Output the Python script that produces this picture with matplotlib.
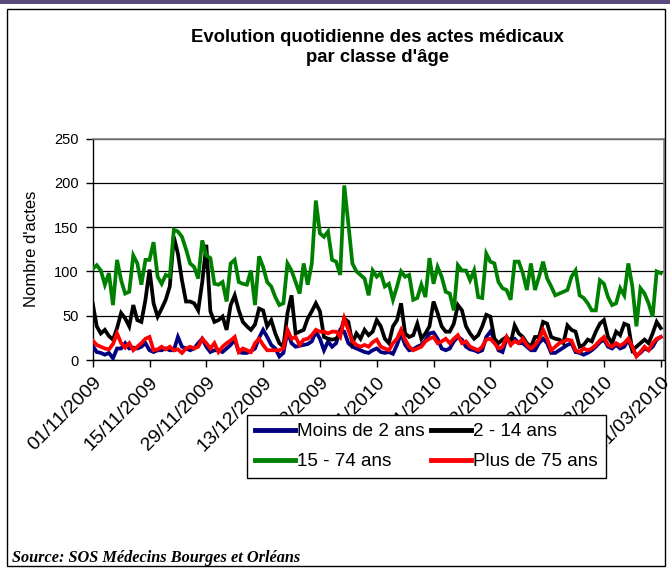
import numpy as np
import matplotlib
matplotlib.use("Agg")
import matplotlib.pyplot as plt
from matplotlib.patches import Rectangle
from matplotlib.lines import Line2D

# ---- data (daily values, 01/11/2009 -> 21/03/2010) ----
moins_2 = [16, 9, 8, 6, 8, 2, 13, 13, 19, 13, 14, 13, 15, 19, 11, 9, 11, 11, 13, 11, 11, 26, 15, 13,
           11, 13, 19, 24, 15, 9, 11, 11, 9, 13, 17, 23, 9, 8, 8, 10, 13, 25, 34, 26, 17, 13, 4, 8,
           32, 19, 15, 16, 17, 18, 21, 32, 24, 11, 21, 15, 19, 34, 32, 19, 15, 13, 11, 9, 8, 11, 13,
           9, 8, 9, 7, 17, 30, 17, 11, 12, 15, 17, 22, 30, 31, 24, 13, 11, 13, 21, 26, 23, 15, 12, 11,
           9, 11, 26, 32, 24, 11, 9, 24, 23, 24, 19, 19, 15, 11, 11, 19, 24, 19, 8, 8, 11, 14, 17, 19,
           9, 8, 6, 8, 11, 15, 20, 23, 15, 13, 17, 13, 15, 23, 11, 5, 8, 13, 11, 15, 23, 26]
ans_2_14 = [64, 38, 30, 34, 27, 23, 36, 53, 47, 38, 62, 45, 43, 68, 102, 64, 49, 58, 68, 83, 139, 120, 90, 66,
            66, 64, 56, 88, 130, 55, 43, 45, 49, 34, 62, 73, 56, 43, 38, 34, 40, 58, 56, 38, 45, 30, 19, 15,
            53, 73, 30, 32, 34, 47, 55, 64, 55, 26, 24, 23, 24, 30, 47, 43, 19, 30, 24, 34, 28, 32, 45,
            38, 24, 19, 38, 45, 64, 30, 26, 28, 41, 24, 30, 38, 66, 53, 38, 32, 32, 41, 62, 56, 38, 30, 24,
            28, 38, 51, 49, 24, 19, 23, 26, 19, 39, 30, 26, 19, 15, 26, 26, 43, 41, 26, 24, 23, 19, 39, 34,
            32, 15, 17, 23, 21, 32, 41, 45, 26, 19, 32, 28, 41, 39, 11, 15, 19, 23, 19, 30, 43, 36]
ans_15_74 = [103, 107, 101, 85, 98, 62, 113, 90, 75, 77, 118, 109, 85, 113, 113, 133, 94, 86, 96, 94, 147, 145, 139, 125,
             109, 105, 92, 135, 118, 115, 86, 85, 88, 66, 109, 113, 88, 86, 85, 101, 62, 117, 105, 88, 83, 71, 62, 64,
             109, 101, 88, 75, 109, 85, 109, 180, 143, 139, 145, 113, 111, 96, 197, 154, 109, 100, 96, 92, 73, 101, 94,
             98, 83, 86, 68, 83, 100, 94, 96, 68, 70, 85, 71, 115, 86, 105, 94, 77, 75, 56, 107, 101, 101, 90, 101,
             71, 70, 120, 111, 109, 88, 81, 79, 68, 111, 111, 98, 79, 109, 79, 94, 111, 92, 83, 73, 75, 77, 79, 94,
             101, 73, 70, 64, 56, 56, 90, 86, 71, 62, 64, 81, 73, 109, 83, 38, 81, 75, 64, 49, 100, 98]
plus_75 = [22, 17, 15, 13, 12, 18, 30, 19, 14, 19, 11, 15, 19, 24, 26, 11, 12, 15, 12, 15, 11, 12, 8, 13,
           15, 13, 15, 24, 19, 13, 19, 9, 15, 19, 22, 26, 9, 13, 11, 9, 19, 24, 17, 11, 11, 11, 11, 13,
           34, 24, 26, 17, 23, 24, 28, 34, 32, 32, 30, 32, 32, 26, 47, 34, 21, 17, 15, 17, 15, 20, 23,
           15, 13, 11, 19, 24, 34, 23, 15, 11, 13, 15, 21, 24, 26, 19, 21, 24, 19, 24, 28, 19, 21, 15, 13,
           11, 15, 23, 24, 19, 13, 15, 26, 17, 21, 19, 24, 17, 13, 17, 23, 34, 24, 11, 15, 19, 21, 23, 22,
           11, 9, 13, 11, 13, 17, 22, 26, 17, 15, 19, 16, 19, 24, 15, 4, 9, 15, 11, 19, 24, 26]

series_labels = ["Moins de 2 ans", "2 - 14 ans", "15 - 74 ans", "Plus de 75 ans"]
series_colors = ["#000080", "#000000", "#008000", "#FF0000"]
tick_labels = ["01/11/2009", "15/11/2009", "29/11/2009", "13/12/2009", "27/12/2009", "10/01/2010",
               "24/01/2010", "07/02/2010", "21/02/2010", "07/03/2010", "21/03/2010"]
y_ticks = [0, 50, 100, 150, 200, 250]

W, H = 670, 570
fig = plt.figure(figsize=(W / 100, H / 100), dpi=100)
fig.patch.set_facecolor("white")

# outer decorations
fig.patches.append(Rectangle((0, 1 - 4 / H), 1, 4 / H, transform=fig.transFigure,
                             facecolor="#5b4a7b", edgecolor="none", zorder=0))
fig.patches.append(Rectangle((7 / W, 1 - 566 / H), (665 - 7) / W, (566 - 9) / H, transform=fig.transFigure,
                             facecolor="none", edgecolor="black", lw=1.0, zorder=0))

ax = fig.add_axes([92.7 / W, 1 - 360 / H, (664 - 92.7) / W, (360 - 138.5) / H])

x = np.arange(len(moins_2))
data = [moins_2, ans_2_14, ans_15_74, plus_75]
for vals, lab, col in zip(data, series_labels, series_colors):
    ax.plot(x, vals, color=col, lw=2.7, label=lab, solid_joinstyle="miter", zorder=3)

ax.set_xlim(0, 140.8)
ax.set_ylim(0, 250)
ax.set_yticks(y_ticks)
ax.set_xticks(np.arange(0, 14 * len(tick_labels), 14))
ax.set_xticklabels(tick_labels, rotation=45, ha="right", rotation_mode="anchor",
                   fontsize=14, family="Liberation Sans")
for t in ax.get_yticklabels():
    t.set_fontsize(10.5)
    t.set_family("Liberation Sans")
ax.tick_params(axis="both", direction="out", length=5, width=1, color="black")
ax.tick_params(axis="y", pad=5)
ax.tick_params(axis="x", pad=5)

ax.grid(axis="y", color="black", lw=0.9, zorder=1)
ax.set_axisbelow(True)
for s in ["top", "right"]:
    ax.spines[s].set_color("#808080")
    ax.spines[s].set_linewidth(1.2)
for s in ["left", "bottom"]:
    ax.spines[s].set_color("black")
    ax.spines[s].set_linewidth(1.0)

ax.set_ylabel("Nombre d'actes", fontsize=12, family="Liberation Sans", labelpad=11)

fig.text(377 / W, 1 - 37 / H, "Evolution quotidienne des actes médicaux", ha="center", va="center",
         fontsize=13.3, fontweight="bold", family="Liberation Sans")
fig.text(377 / W, 1 - 58 / H, "par classe d'âge", ha="center", va="center",
         fontsize=13.3, fontweight="bold", family="Liberation Sans")

order = [0, 2, 1, 3]
leg_handles = [Line2D([0], [0], color=series_colors[i], lw=3.5) for i in order]
leg = fig.legend(leg_handles, [series_labels[i] for i in order], ncol=2,
                 loc="upper left", bbox_to_anchor=(247 / W, 1 - 415 / H),
                 frameon=True, fancybox=False, edgecolor="black", framealpha=1,
                 prop={"family": "Liberation Sans", "size": 13.6},
                 handlelength=2.1, handletextpad=0.12, columnspacing=0.35,
                 labelspacing=0.68, borderpad=0.42, borderaxespad=0)
leg.get_frame().set_linewidth(1.0)
leg.set_zorder(10)

fig.text(12 / W, 1 - 558 / H, "Source: SOS Médecins Bourges et Orléans", ha="left", va="center",
         fontsize=11.7, fontweight="bold", fontstyle="italic", family="Liberation Serif")

fig.savefig("out.png", dpi=100)
